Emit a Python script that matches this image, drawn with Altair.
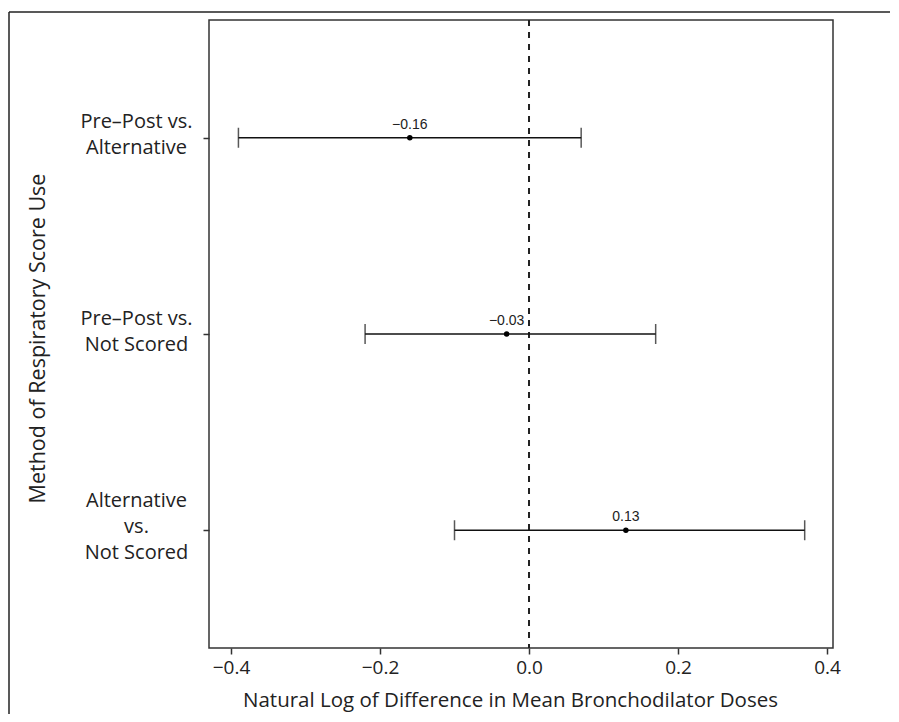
import altair as alt
import pandas as pd

comparisons = ["Pre–Post vs.|Alternative", "Pre–Post vs.|Not Scored", "Alternative|vs.|Not Scored"]
row_pos = [3, 2, 1]
estimates = [-0.16, -0.03, 0.13]
lower = [-0.39, -0.22, -0.10]
upper = [0.07, 0.17, 0.37]
x_ticks = [-0.4, -0.2, 0.0, 0.2, 0.4]

df = pd.DataFrame({"comp": comparisons, "pos": row_pos, "est": estimates,
                   "lo": lower, "hi": upper})

FONT = "Open Sans"
W, H = 624, 628

cond = " : ".join(f"datum.value == {p} ? '{c}'" for p, c in zip(row_pos, comparisons))
label_expr = f"split({cond} : '', '|')"

xscale = alt.Scale(domain=[-0.4295, 0.408], nice=False, zero=False)
yscale = alt.Scale(domain=[0.4, 3.6], nice=False, zero=False)

xaxis = alt.Axis(values=x_ticks, format=".1f", grid=False, domain=False,
                 tickSize=6, tickColor="#333", tickWidth=1.5,
                 labelFont=FONT, labelFontSize=19, labelColor="#222", labelPadding=4,
                 title="Natural Log of Difference in Mean Bronchodilator Doses",
                 titleFont=FONT, titleFontSize=20.5, titleFontWeight="normal", titleColor="#222",
                 titleX=301, titleY=58, titleBaseline="alphabetic", titleAnchor="middle")
yaxis = alt.Axis(values=row_pos, labelExpr=label_expr, grid=False, domain=False,
                 tickSize=6, tickColor="#333", tickWidth=1.5,
                 labelFont=FONT, labelFontSize=20, labelColor="#222",
                 labelAlign="center", labelBaseline="middle", labelPadding=67,
                 labelLineHeight=26,
                 labelOffset={"condition": {"test": "datum.value == 1", "value": -30},
                              "value": -16},
                 title="Method of Respiratory Score Use",
                 titleFont=FONT, titleFontSize=21.5, titleFontWeight="normal", titleColor="#222",
                 titleX=-171, titleY=318, titleAngle=-90, titleAlign="center",
                 titleBaseline="middle")

base = alt.Chart(df)

bars = base.mark_rule(color="#111", strokeWidth=1.5).encode(
    x=alt.X("lo:Q", scale=xscale, axis=xaxis),
    x2="hi:Q",
    y=alt.Y("pos:Q", scale=yscale, axis=yaxis),
)
cap_lo = base.mark_tick(orient="vertical", color="#111", size=20, thickness=1.5).encode(
    x=alt.X("lo:Q", scale=xscale), y=alt.Y("pos:Q", scale=yscale))
cap_hi = base.mark_tick(orient="vertical", color="#111", size=20, thickness=1.5).encode(
    x=alt.X("hi:Q", scale=xscale), y=alt.Y("pos:Q", scale=yscale))
pts = base.mark_circle(color="#000", size=30, opacity=1).encode(
    x=alt.X("est:Q", scale=xscale), y=alt.Y("pos:Q", scale=yscale))
txt = base.mark_text(font="Liberation Sans", fontSize=14, color="#222",
                     baseline="alphabetic", dy=-9).encode(
    x=alt.X("est:Q", scale=xscale), y=alt.Y("pos:Q", scale=yscale),
    text=alt.Text("est:Q", format=".2f"))

zero_df = pd.DataFrame({"z": [0.0]})
zero_line = alt.Chart(zero_df).mark_rule(color="#222", strokeWidth=2, strokeDash=[6, 6]).encode(
    x=alt.X("z:Q", scale=xscale))

frame_df = pd.DataFrame({"a": [0]})
frame_top = alt.Chart(frame_df).mark_rule(color="#222", strokeWidth=1.5).encode(
    x=alt.value(-200), x2=alt.value(681), y=alt.value(-8))
frame_left = alt.Chart(frame_df).mark_rule(color="#222", strokeWidth=1.5).encode(
    x=alt.value(-200), y=alt.value(-8), y2=alt.value(694))

chart = alt.layer(frame_top, frame_left, zero_line, bars, cap_lo, cap_hi, pts, txt).properties(
    width=W, height=H,
    padding={"left": 0, "top": 3, "right": 0, "bottom": 0},
    background="white",
).configure_view(stroke="#333", strokeWidth=1.5)

chart.save("out.html", embed_options={"renderer": "svg", "actions": False})
